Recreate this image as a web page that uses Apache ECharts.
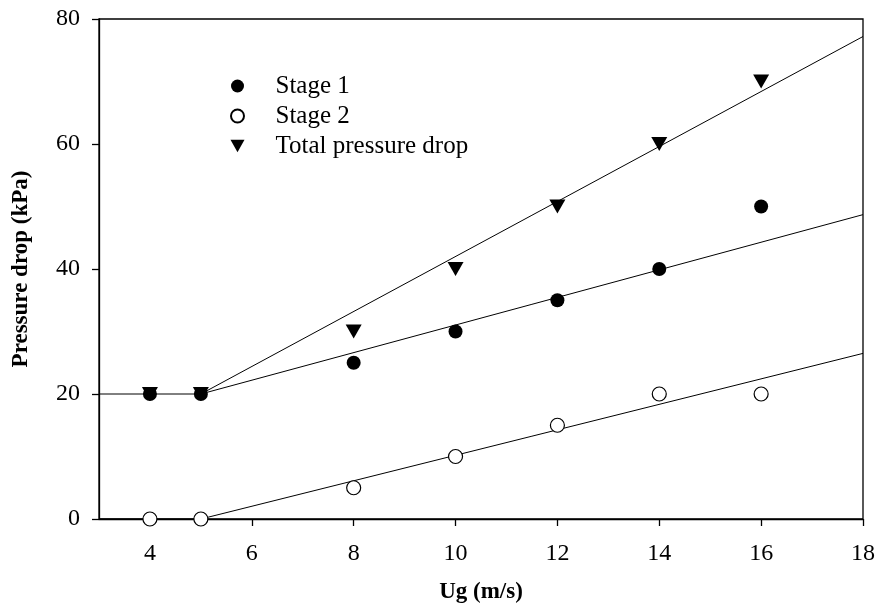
<!DOCTYPE html>
<html><head><meta charset="utf-8">
<script src="https://cdn.jsdelivr.net/npm/echarts@6/dist/echarts.min.js"></script>
<style>html,body{margin:0;padding:0;background:#fff}#c{width:878px;height:609px}</style>
</head><body><div id="c"></div>
<script>
const ug = [4, 5, 8, 10, 12, 14, 16];
const stage1 = [20, 20, 25, 30, 35, 40, 50];
const stage2 = [0, 0, 5, 10, 15, 20, 20];
const total = [20, 20, 30, 40, 50, 60, 70];
const fitStage1 = [[3, 20], [5, 20], [18, 48.7]];
const fitStage2 = [[3, 0], [5, 0], [18, 26.5]];
const fitTotal = [[5, 20], [18, 77.2]];
const xTicks = [4, 6, 8, 10, 12, 14, 16, 18];
const yTicks = [0, 20, 40, 60, 80];

const font = '"Liberation Serif", "Times New Roman", serif';
const pair = (xs, ys) => xs.map((x, i) => [x, ys[i]]);
const fitLine = d => ({type:'line', data:d, symbol:'none', silent:true, lineStyle:{color:'#000', width:1}, z:1});
const downTri = 'path://M0,0 L10,0 L5,9 Z';

const chart = echarts.init(document.getElementById('c'));
chart.setOption({
  animation:false,
  grid:{left:99, right:14, top:19, bottom:89, show:true, borderColor:'#000', borderWidth:1.3},
  legend:{
    orient:'vertical', left:225, top:68, itemGap:4, itemWidth:14, itemHeight:13,
    textStyle:{fontFamily:font, fontSize:25, lineHeight:26, color:'#000', padding:[0,0,0,26]},
    data:[{name:'Stage 1'},{name:'Stage 2'},{name:'Total pressure drop', icon:downTri}]
  },
  xAxis:{
    type:'value', min:3, max:18,
    name:'Ug (m/s)', nameLocation:'middle', nameGap:62,
    nameTextStyle:{fontFamily:font, fontSize:23, fontWeight:'bold', color:'#000'},
    axisLine:{lineStyle:{color:'#000', width:1.3}},
    axisTick:{inside:false, customValues:xTicks, length:7, lineStyle:{color:'#000', width:1.3}},
    axisLabel:{customValues:xTicks, fontFamily:font, fontSize:24, color:'#000', margin:23},
    splitLine:{show:false}
  },
  yAxis:{
    type:'value', min:0, max:80,
    name:'Pressure drop (kPa)', nameLocation:'middle', nameGap:66,
    nameTextStyle:{fontFamily:font, fontSize:23, fontWeight:'bold', color:'#000'},
    axisLine:{show:true, lineStyle:{color:'#000', width:1.3}},
    axisTick:{show:true, inside:false, customValues:yTicks, length:7, lineStyle:{color:'#000', width:1.3}},
    axisLabel:{customValues:yTicks, fontFamily:font, fontSize:24, color:'#000', margin:19},
    splitLine:{show:false}
  },
  series:[
    fitLine(fitStage1), fitLine(fitStage2), fitLine(fitTotal),
    {name:'Stage 1', type:'scatter', data:pair(ug, stage1), symbol:'circle', symbolSize:14,
     itemStyle:{color:'#000', opacity:1}, z:3},
    {name:'Stage 2', type:'scatter', data:pair(ug, stage2), symbol:'circle', symbolSize:14,
     itemStyle:{color:'#fff', borderColor:'#000', borderWidth:1.2, opacity:1}, z:3},
    {name:'Total pressure drop', type:'scatter', data:pair(ug, total), symbol:'triangle', symbolRotate:180, symbolSize:[16,14],
     itemStyle:{color:'#000', opacity:1}, z:2}
  ]
});
</script></body></html>
